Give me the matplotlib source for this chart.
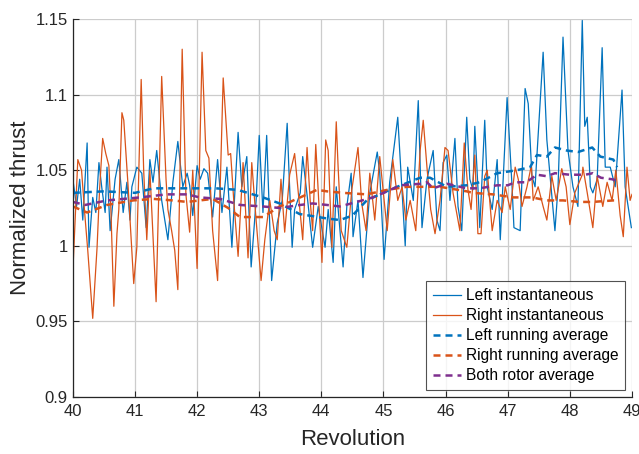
import matplotlib
matplotlib.use("Agg")
import matplotlib.pyplot as plt

plt.rcParams['font.family'] = ['Liberation Sans', 'DejaVu Sans']

# Left instantaneous (blue)
left_x = [40.00, 40.06, 40.11, 40.16, 40.23, 40.26, 40.32, 40.37, 40.42, 40.47, 40.52, 40.55, 40.60,
          40.68, 40.74, 40.81, 40.87, 40.92, 40.95, 41.03, 41.11, 41.18, 41.24, 41.29, 41.35, 41.43,
          41.53, 41.61, 41.69, 41.77, 41.84, 41.88, 41.93, 42.00, 42.05, 42.11, 42.17, 42.25, 42.33,
          42.40, 42.48, 42.56, 42.66, 42.72, 42.80, 42.87, 42.95, 43.00, 43.06, 43.12, 43.20, 43.29,
          43.37, 43.45, 43.48, 43.53, 43.57, 43.66, 43.70, 43.78, 43.86, 43.95, 44.06, 44.11, 44.19,
          44.24, 44.35, 44.41, 44.48, 44.51, 44.59, 44.67, 44.78, 44.90, 44.94, 45.01, 45.10, 45.23,
          45.35, 45.39, 45.48, 45.56, 45.62, 45.70, 45.80, 45.86, 45.91, 45.96, 46.02, 46.07, 46.15,
          46.20, 46.26, 46.34, 46.39, 46.44, 46.47, 46.52, 46.55, 46.63, 46.67, 46.75, 46.83, 46.88,
          46.99, 47.07, 47.10, 47.20, 47.28, 47.33, 47.39, 47.44, 47.57, 47.63, 47.76, 47.81, 47.89,
          47.97, 48.05, 48.13, 48.20, 48.24, 48.28, 48.33, 48.37, 48.44, 48.52, 48.57, 48.65, 48.73,
          48.84, 48.89, 48.99]
left_y = [1.044, 1.026, 1.044, 1.017, 1.068, 0.999, 1.032, 1.022, 1.055, 1.037, 1.022, 1.052, 1.010,
          1.044, 1.057, 1.022, 1.042, 1.017, 1.039, 1.052, 1.048, 1.012, 1.057, 1.042, 1.063, 1.030,
          1.004, 1.042, 1.069, 1.039, 1.048, 1.040, 1.020, 1.053, 1.044, 1.051, 1.048, 1.019, 1.057,
          1.022, 1.052, 0.999, 1.075, 1.039, 1.059, 0.986, 1.030, 1.073, 1.022, 1.073, 0.977, 1.015,
          1.030, 1.081, 1.048, 0.999, 1.024, 1.035, 1.059, 1.030, 0.999, 1.026, 0.999, 1.024, 0.989,
          1.039, 0.986, 1.026, 1.048, 1.006, 1.030, 0.979, 1.035, 1.062, 1.048, 0.991, 1.042, 1.085,
          1.000, 1.052, 1.030, 1.096, 1.012, 1.044, 1.063, 1.017, 1.010, 1.055, 1.060, 1.030, 1.071,
          1.026, 1.010, 1.085, 1.044, 1.037, 1.079, 1.039, 1.012, 1.083, 1.039, 1.024, 1.057, 1.004,
          1.098, 1.039, 1.012, 1.010, 1.104, 1.094, 1.046, 1.039, 1.128, 1.070, 1.010, 1.039, 1.138,
          1.063, 1.039, 1.026, 1.149, 1.079, 1.085, 1.039, 1.035, 1.044, 1.131, 1.052, 1.052, 1.039,
          1.103, 1.039, 1.012]

# Right instantaneous (orange)
right_x = [40.00, 40.08, 40.14, 40.19, 40.24, 40.32, 40.39, 40.43, 40.48, 40.53, 40.58, 40.61, 40.66,
           40.71, 40.74, 40.79, 40.82, 40.89, 40.98, 41.03, 41.10, 41.14, 41.19, 41.24, 41.29, 41.34,
           41.38, 41.43, 41.50, 41.53, 41.59, 41.64, 41.69, 41.76, 41.82, 41.88, 41.93, 42.00, 42.08,
           42.14, 42.19, 42.25, 42.33, 42.42, 42.50, 42.54, 42.59, 42.66, 42.74, 42.82, 42.88, 42.95,
           43.03, 43.09, 43.17, 43.24, 43.29, 43.35, 43.41, 43.49, 43.57, 43.64, 43.70, 43.77, 43.82,
           43.86, 43.91, 44.01, 44.07, 44.11, 44.17, 44.24, 44.27, 44.32, 44.41, 44.49, 44.59, 44.65,
           44.72, 44.78, 44.86, 44.94, 45.01, 45.06, 45.15, 45.23, 45.30, 45.36, 45.43, 45.52, 45.59,
           45.64, 45.70, 45.76, 45.83, 45.91, 45.99, 46.04, 46.12, 46.23, 46.30, 46.36, 46.41, 46.47,
           46.52, 46.57, 46.63, 46.67, 46.75, 46.83, 46.91, 46.96, 47.04, 47.12, 47.17, 47.23, 47.31,
           47.38, 47.41, 47.49, 47.57, 47.63, 47.71, 47.78, 47.87, 47.94, 48.00, 48.08, 48.20, 48.21,
           48.28, 48.37, 48.44, 48.53, 48.60, 48.68, 48.74, 48.81, 48.86, 48.92, 48.97, 49.00]
right_y = [0.983, 1.057, 1.050, 1.022, 0.997, 0.952, 0.999, 1.037, 1.071, 1.061, 1.053, 1.027, 0.960,
           1.008, 1.024, 1.088, 1.083, 1.039, 0.975, 0.999, 1.110, 1.050, 1.004, 1.050, 1.007, 0.963,
           1.030, 1.112, 1.044, 1.024, 1.010, 0.997, 0.971, 1.130, 1.034, 1.009, 1.050, 0.985, 1.128,
           1.063, 1.058, 1.010, 0.977, 1.111, 1.060, 1.061, 1.030, 0.993, 1.055, 0.992, 1.055, 1.017,
           0.977, 1.004, 1.030, 1.010, 1.004, 1.044, 1.009, 1.047, 1.061, 1.030, 1.004, 1.065, 1.030,
           1.010, 1.067, 0.989, 1.070, 1.063, 0.999, 1.082, 1.052, 1.010, 0.999, 1.037, 1.065, 1.028,
           1.010, 1.048, 1.017, 1.059, 1.030, 1.010, 1.057, 1.030, 1.039, 1.017, 1.030, 1.010, 1.063,
           1.083, 1.052, 1.024, 1.008, 1.030, 1.065, 1.063, 1.035, 1.010, 1.068, 1.037, 1.024, 1.060,
           1.008, 1.008, 1.046, 1.050, 1.010, 1.030, 1.022, 1.039, 1.024, 1.052, 1.044, 1.026, 1.039,
           1.053, 1.030, 1.039, 1.026, 1.017, 1.046, 1.030, 1.051, 1.039, 1.014, 1.035, 1.047, 1.052,
           1.035, 1.012, 1.046, 1.026, 1.042, 1.030, 1.050, 1.020, 1.006, 1.052, 1.030, 1.034]

# Left running average
left_avg_x = [40.00, 40.50, 41.00, 41.30, 41.80, 42.30, 42.65, 43.06, 43.33, 43.65, 44.10, 44.30,
              44.50, 44.73, 44.99, 45.22, 45.59, 45.75, 46.02, 46.34, 46.55, 46.83, 47.15, 47.36,
              47.47, 47.63, 47.76, 47.95, 48.13, 48.36, 48.49, 48.70, 48.76]
left_avg_y = [1.035, 1.036, 1.035, 1.038, 1.038, 1.038, 1.037, 1.032, 1.028, 1.021, 1.018, 1.017,
              1.020, 1.030, 1.035, 1.039, 1.045, 1.045, 1.039, 1.040, 1.042, 1.048, 1.050, 1.052,
              1.060, 1.059, 1.065, 1.063, 1.062, 1.065, 1.059, 1.057, 1.052]

# Right running average
right_avg_x = [40.00, 40.23, 40.55, 40.97, 41.30, 41.61, 41.84, 42.25, 42.50, 42.69, 43.06, 43.33,
               43.66, 43.93, 44.09, 44.35, 44.73, 45.06, 45.38, 45.59, 45.91, 46.34, 46.44, 46.76,
               47.09, 47.39, 47.63, 47.89, 48.16, 48.37, 48.70, 48.76]
right_avg_y = [1.026, 1.022, 1.027, 1.030, 1.031, 1.030, 1.029, 1.031, 1.025, 1.019, 1.019, 1.026,
               1.032, 1.037, 1.036, 1.035, 1.034, 1.037, 1.039, 1.039, 1.039, 1.036, 1.035, 1.034,
               1.032, 1.032, 1.030, 1.030, 1.029, 1.029, 1.030, 1.030]

# Both rotor average
both_avg_x = [40.00, 40.20, 40.55, 41.08, 41.51, 41.84, 42.04, 42.37, 42.69, 43.06, 43.33, 43.66,
              43.86, 44.09, 44.30, 44.57, 44.83, 45.06, 45.27, 45.59, 45.70, 45.80, 46.02, 46.34,
              46.55, 46.83, 47.00, 47.12, 47.30, 47.47, 47.63, 47.76, 48.00, 48.25, 48.37, 48.50,
              48.68, 48.76]
both_avg_y = [1.029, 1.027, 1.030, 1.032, 1.034, 1.034, 1.032, 1.031, 1.027, 1.026, 1.025, 1.027,
              1.028, 1.027, 1.026, 1.029, 1.032, 1.036, 1.040, 1.041, 1.042, 1.038, 1.041, 1.038,
              1.038, 1.040, 1.040, 1.042, 1.042, 1.047, 1.046, 1.048, 1.047, 1.047, 1.048, 1.045,
              1.044, 1.043]

labels = ["Left instantaneous", "Right instantaneous", "Left running average",
          "Right running average", "Both rotor average"]
x_ticks = [40, 41, 42, 43, 44, 45, 46, 47, 48, 49]
y_ticks = [0.9, 0.95, 1.0, 1.05, 1.1, 1.15]
y_tick_labels = ["0.9", "0.95", "1", "1.05", "1.1", "1.15"]

BLUE = "#0072BD"
ORANGE = "#D95319"
PURPLE = "#7E2F8E"

fig = plt.figure(figsize=(6.39, 4.54), dpi=100)
ax = fig.add_axes([0.114, 0.1256, 0.875, 0.8326])

ax.plot(left_x, left_y, color=BLUE, lw=0.9, label=labels[0])
ax.plot(right_x, right_y, color=ORANGE, lw=0.9, label=labels[1])
ax.plot(left_avg_x, left_avg_y, color=BLUE, lw=1.8, dashes=(2.8, 2.0), label=labels[2])
ax.plot(right_avg_x, right_avg_y, color=ORANGE, lw=1.8, dashes=(2.8, 2.0), label=labels[3])
ax.plot(both_avg_x, both_avg_y, color=PURPLE, lw=1.8, dashes=(2.8, 2.0), label=labels[4])

ax.set_xlim(40, 49)
ax.set_ylim(0.9, 1.15)
ax.set_xticks(x_ticks)
ax.set_yticks(y_ticks)
ax.set_yticklabels(y_tick_labels)
ax.tick_params(direction='in', length=4, width=0.8, labelsize=12, colors='#262626',
               top=False, right=False)
ax.tick_params(axis='x', pad=5)
ax.grid(True, color='#cccccc', lw=0.9)
ax.set_axisbelow(True)
for s in ['top', 'right']:
    ax.spines[s].set_visible(False)
for s in ['left', 'bottom']:
    ax.spines[s].set_color('#262626')
    ax.spines[s].set_linewidth(0.9)

ax.set_xlabel("Revolution", fontsize=16, color='#262626', labelpad=7)
ax.set_ylabel("Normalized thrust", fontsize=16, color='#262626', labelpad=3)

leg = ax.legend(loc='lower right', bbox_to_anchor=(0.988, 0.018), fontsize=11.2,
                frameon=True, fancybox=False, handlelength=1.8, handletextpad=0.3,
                labelspacing=0.32, borderpad=0.45, borderaxespad=0.0)
leg.get_frame().set_edgecolor('#262626')
leg.get_frame().set_linewidth(0.8)

fig.savefig("out.png", dpi=100)
